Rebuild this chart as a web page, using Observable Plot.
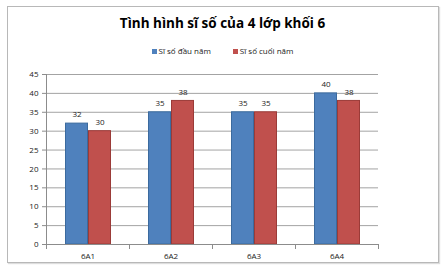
<!DOCTYPE html>
<html><head><meta charset="utf-8">
<script src="https://cdn.jsdelivr.net/npm/d3@7"></script>
<script src="https://cdn.jsdelivr.net/npm/@observablehq/plot@0.6"></script>
<style>
body{margin:0;background:#fff;font-family:"Open Sans",sans-serif;}
#wrap{position:relative;width:445px;height:274px;overflow:hidden;}
#frame{position:absolute;left:7px;top:6px;width:430px;height:255px;border:1px solid #b8b8b8;box-shadow:1px 1px 1px #ddd;}
#title{position:absolute;left:0;width:445px;top:14px;text-align:center;font-weight:bold;font-size:13.5px;color:#000;}
#legend{position:absolute;left:0;width:445px;top:45px;text-align:center;font-size:8px;color:#222;}
#legend span.sw{display:inline-block;width:5px;height:5px;margin-right:2px;vertical-align:middle;}
#legend span.it{margin:0 11px;}
#chart{position:absolute;left:0;top:0;}
</style></head>
<body><div id="wrap"><div id="frame"></div><div id="title"></div><div id="legend"></div><div id="chart"></div></div>
<script>
const title = "Tình hình sĩ số của 4 lớp khối 6";
const classes = ["6A1","6A2","6A3","6A4"];
const seriesNames = ["Sĩ số đầu năm","Sĩ số cuối năm"];
const startValues = [32,35,35,40];
const endValues = [30,38,35,38];
const colors = ["#4F81BD","#C0504D"];
const strokes = ["#3B6A9E","#9B3B38"];
const yTicks = [0,5,10,15,20,25,30,35,40,45];

const data = [];
classes.forEach((c,i)=>{
  data.push({cls:c, series:seriesNames[0], value:startValues[i]});
  data.push({cls:c, series:seriesNames[1], value:endValues[i]});
});

document.getElementById("title").textContent = title;
document.getElementById("legend").innerHTML = seriesNames.map((s,i)=>
  `<span class="it"><span class="sw" style="background:${colors[i]}"></span>${s}</span>`).join("");

const axisColor = "#8c8c8c";
const chart = Plot.plot({
  width:445, height:274,
  marginLeft:46, marginRight:67, marginTop:74, marginBottom:30,
  style:{fontFamily:"Open Sans, sans-serif", fontSize:"8px", color:"#222", background:"transparent"},
  fx:{domain:classes, padding:0, label:null, axis:null},
  x:{domain:seriesNames, paddingInner:0, paddingOuter:0.77, axis:null},
  y:{domain:[0,45], ticks:yTicks, label:null, axis:null},
  color:{domain:seriesNames, range:colors},
  marks:[
    Plot.gridY(yTicks, {stroke:axisColor, strokeOpacity:1, strokeWidth:0.8}),
    Plot.barY(data, {fx:"cls", x:"series", y:"value", fill:"series",
      stroke:d=>strokes[seriesNames.indexOf(d.series)], strokeWidth:1, insetLeft:0.5, insetRight:0.5}),
    Plot.text(data, {fx:"cls", x:"series", y:"value", text:d=>String(d.value), dy:-9, fontSize:8, fill:"#222"}),
    Plot.axisY(yTicks, {anchor:"left", facetAnchor:"left", tickSize:4, tickPadding:4, stroke:axisColor, fill:"#222", fontSize:8}),
    Plot.frame({anchor:"left", facetAnchor:"left", stroke:axisColor}),
    Plot.frame({anchor:"left", stroke:axisColor, insetTop:170, insetBottom:-4}),
    Plot.frame({anchor:"right", stroke:axisColor, insetTop:170, insetBottom:-4}),
    Plot.axisFx({anchor:"bottom", tickSize:0, tickPadding:9, fontSize:8, fill:"#222", label:null}),
    Plot.ruleY([0], {stroke:axisColor})
  ]
});
document.getElementById("chart").appendChild(chart);
</script></body></html>
